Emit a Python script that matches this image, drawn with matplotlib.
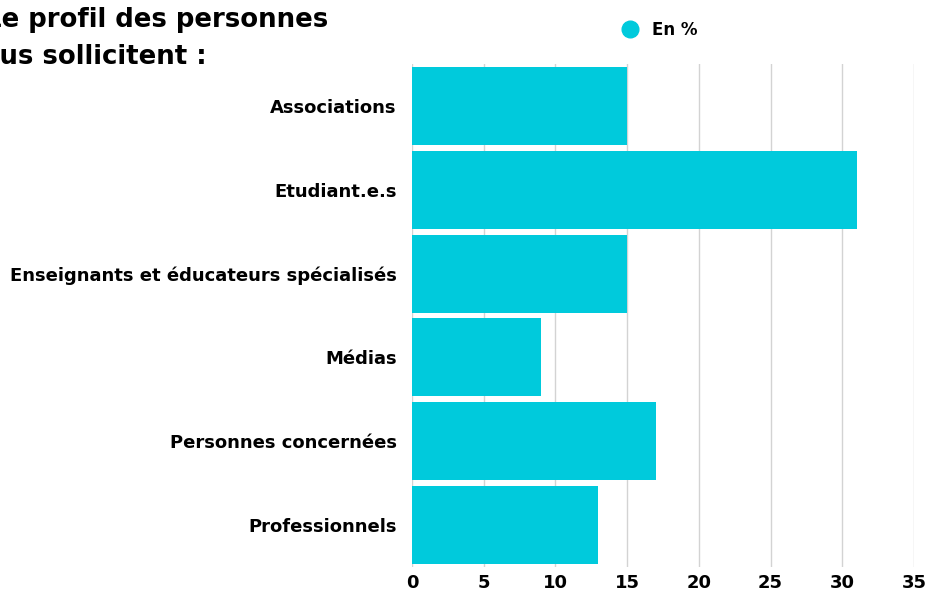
import matplotlib
matplotlib.use("Agg")
import matplotlib.pyplot as plt
from matplotlib.lines import Line2D

categories = ["Associations", "Etudiant.e.s", "Enseignants et éducateurs spécialisés",
              "Médias", "Personnes concernées", "Professionnels"]
values = [15, 31, 15, 9, 17, 13]
x_ticks = [0, 5, 10, 15, 20, 25, 30, 35]
title_lines = ["Le profil des personnes", "qui vous sollicitent :"]
legend_label = "En %"

BAR_COLOR = "#00CADC"
LABEL_FONT = "DejaVu Sans"
TITLE_FONT = "DejaVu Sans"

fig = plt.figure(figsize=(9.29, 5.92), dpi=100)
ax = fig.add_axes([0.4435, 0.0422, 0.5404, 0.8497])

ypos = list(range(len(categories)))
ax.barh(ypos, values, height=0.93, color=BAR_COLOR, zorder=3)
ax.set_ylim(len(categories) - 0.5, -0.5)
ax.set_xlim(0, 35)

ax.set_yticks(ypos)
ax.set_yticklabels(categories, fontsize=13, fontweight="bold", family=LABEL_FONT)
ax.set_xticks(x_ticks)
ax.set_xticklabels([str(t) for t in x_ticks], fontsize=13, fontweight="bold", family=LABEL_FONT)
ax.tick_params(axis="both", length=0)
ax.tick_params(axis="y", pad=11)
ax.tick_params(axis="x", pad=5)

ax.grid(axis="x", color="#d3d3d3", linewidth=1, zorder=0)
for s in ax.spines.values():
    s.set_visible(False)

# legend
handle = Line2D([], [], marker="o", linestyle="none", markersize=12,
                markerfacecolor=BAR_COLOR, markeredgecolor=BAR_COLOR)
fig.legend([handle], [legend_label], loc="center", bbox_to_anchor=(0.7055, 0.949),
           frameon=False, handletextpad=0.3,
           prop={"family": LABEL_FONT, "weight": "bold", "size": 12})

# title: the source image crops it on the left, right edges at x=328 and 207 px
t1 = fig.text(328 / 929, 1 - 27 / 592, title_lines[0], ha="right", va="baseline",
              fontsize=17, fontweight="bold", family=TITLE_FONT)
t2 = fig.text(207 / 929, 1 - 64 / 592, title_lines[1], ha="right", va="baseline",
              fontsize=17, fontweight="bold", family=TITLE_FONT)

# scale the font so that "e profil des personnes" spans the visible 328 px
renderer = fig.canvas.get_renderer()
probe = fig.text(0, 0, title_lines[0][1:], fontsize=17, fontweight="bold", family=TITLE_FONT)
w = probe.get_window_extent(renderer).width
probe.remove()
size = 17 * 328 / w
t1.set_fontsize(size)
t2.set_fontsize(size)

fig.savefig("out.png", dpi=100)
